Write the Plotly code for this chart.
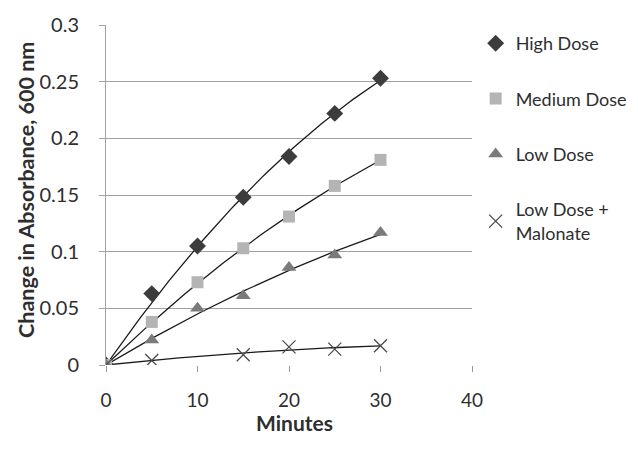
import numpy as np
import plotly.graph_objects as go

minutes = [0, 5, 10, 15, 20, 25, 30]
high_dose = [0, 0.063, 0.105, 0.148, 0.184, 0.222, 0.253]
medium_dose = [0, 0.038, 0.073, 0.103, 0.131, 0.158, 0.181]
low_dose = [0, 0.022, 0.050, 0.061, 0.086, 0.097, 0.117]
malonate_minutes = [0, 5, 15, 20, 25, 30]
low_malonate = [0, 0.004, 0.009, 0.016, 0.014, 0.017]

y_ticks = [0, 0.05, 0.1, 0.15, 0.2, 0.25, 0.3]
y_tick_labels = ["0", "0.05", "0.1", "0.15", "0.2", "0.25", "0.3"]
x_ticks = [0, 10, 20, 30, 40]

font_family = "Lato, 'Open Sans', sans-serif"
text_color = "#2e2e2e"


def trend(xs, ys):
    # least-squares polynomial (order 2) trendline through the origin
    xs = np.asarray(xs, float)
    ys = np.asarray(ys, float)
    A = np.column_stack([xs, xs ** 2])
    coef, *_ = np.linalg.lstsq(A, ys, rcond=None)
    xx = np.linspace(0, xs.max(), 80)
    return xx, coef[0] * xx + coef[1] * xx ** 2


series = [
    ("High Dose", minutes, high_dose, dict(symbol="diamond", size=13, color="#3c3c3c")),
    ("Medium Dose", minutes, medium_dose, dict(symbol="square", size=12, color="#b4b4b4")),
    ("Low Dose", minutes, low_dose, dict(symbol="triangle-up", size=13, color="#7a7a7a")),
    ("Low Dose +<br>Malonate", malonate_minutes, low_malonate,
     dict(symbol="x-thin-open", size=13, color="#4a4a4a", line=dict(width=1.3, color="#4a4a4a"))),
]

fig = go.Figure()
for i, (name, xs, ys, mk) in enumerate(series):
    tx, ty = trend(xs, ys)
    fig.add_trace(go.Scatter(x=tx, y=ty, mode="lines", line=dict(color="#1a1a1a", width=1.3),
                             showlegend=False, hoverinfo="skip"))
for i, (name, xs, ys, mk) in enumerate(series):
    fig.add_trace(go.Scatter(x=xs, y=ys, mode="markers", name=name, marker=mk,
                             legendgroup=f"g{i}"))

fig.update_layout(
    width=630, height=441,
    margin=dict(l=98, r=166, t=17, b=84, autoexpand=False),
    paper_bgcolor="white", plot_bgcolor="white",
    font=dict(family=font_family, size=18, color=text_color),
    legend=dict(x=1.01, y=1.0, xanchor="left", yanchor="top", tracegroupgap=29,
                font=dict(size=18, color=text_color), itemwidth=30,
                bgcolor="rgba(0,0,0,0)"),
    annotations=[
        dict(text="<b>Minutes</b>", xref="paper", yref="paper",
             x=0.516, y=-0.168, xanchor="center", yanchor="middle",
             showarrow=False, font=dict(size=21, color=text_color)),
        dict(text="<b>Change in Absorbance, 600 nm</b>", xref="paper", yref="paper",
             x=-0.2186, y=0.515, xanchor="center", yanchor="middle", textangle=-90,
             showarrow=False, font=dict(size=21.5, color=text_color)),
    ],
)
fig.update_xaxes(
    range=[0, 40], tickvals=x_ticks, showgrid=False, zeroline=False, automargin=False,
    showline=False, ticks="outside", ticklen=6, tickcolor="#999",
    tickfont=dict(size=19), ticklabelstandoff=12,
)
fig.update_yaxes(
    range=[0, 0.3], tickvals=y_ticks, ticktext=y_tick_labels, automargin=False,
    showgrid=True, gridcolor="#a0a0a0", gridwidth=1, zeroline=False,
    showline=True, linecolor="#a0a0a0", linewidth=1,
    ticks="outside", ticklen=6, tickcolor="#a0a0a0", ticklabelstandoff=16,
    tickfont=dict(size=20),
)
fig.write_html("out.html")
